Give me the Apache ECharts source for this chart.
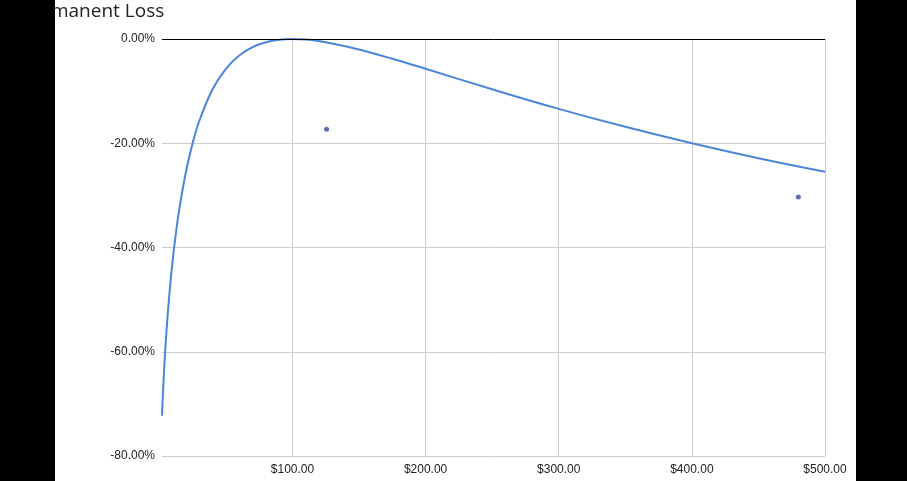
<!DOCTYPE html>
<html><head><meta charset="utf-8">
<script src="https://cdn.jsdelivr.net/npm/echarts@6/dist/echarts.min.js"></script>
<style>html,body{margin:0;padding:0;background:#fff}#c{width:907px;height:481px}</style>
</head><body><div id="c"></div>
<script>
const titleText = 'Impermanent Loss';
const prices = [2,3,4,5,6,8,10,12,15,20,25,30,40,50,60,70,80,90,100,110,125,150,175,200,250,300,350,400,450,500];
const lossPct = [-72.27,-66.37,-61.54,-57.41,-53.79,-47.62,-42.50,-38.14,-32.64,-25.46,-20.00,-15.73,-9.65,-5.72,-3.18,-1.57,-0.62,-0.14,0,-0.11,-0.62,-2.02,-3.79,-5.72,-9.65,-13.40,-16.85,-20.00,-22.86,-25.46];
const pointPrices = [125.6, 480];
const pointLoss = [-17.3, -30.3];
const xTicks = [100,200,300,400,500];

const chart = echarts.init(document.getElementById('c'), null, {renderer:'canvas'});
const font = '"Liberation Sans", Arial, sans-serif';
chart.setOption({
  animation:false,
  backgroundColor:'#fff',
  title:{text:titleText,left:-7,top:-3,textStyle:{fontFamily:'"Open Sans", sans-serif',fontSize:19,fontWeight:'normal',color:'#222'}},
  grid:{left:162,right:82,top:39,bottom:25,containLabel:false},
  xAxis:{type:'value',min:2,max:500,
    axisLine:{show:false},
    axisTick:{show:false,customValues:xTicks},
    axisLabel:{customValues:xTicks,fontFamily:font,fontSize:12,color:'#222',margin:8,formatter:v=>'$'+v.toFixed(2)},
    splitLine:{show:true,lineStyle:{color:'#cccccc',width:1}}},
  yAxis:{type:'value',min:-80,max:0,interval:20,
    axisLine:{show:false},axisTick:{show:false},
    axisLabel:{fontFamily:font,fontSize:12,color:'#222',margin:7,formatter:v=>v.toFixed(2)+'%'},
    splitLine:{show:true,lineStyle:{color:'#cccccc',width:1}}},
  series:[
    {type:'line',data:prices.map((p,i)=>[p,lossPct[i]]),smooth:0.4,showSymbol:false,symbol:'none',
     lineStyle:{color:'#4a86d8',width:2},z:3,
     markLine:{silent:true,symbol:'none',label:{show:false},lineStyle:{color:'#000',width:1,type:'solid'},data:[{yAxis:0}]}},
    {type:'scatter',data:pointPrices.map((p,i)=>[p,pointLoss[i]]),symbolSize:5,itemStyle:{color:'#3a479f'},z:4}
  ],
  graphic:[
    {type:'rect',left:0,top:0,shape:{width:55,height:481},style:{fill:'#000'},z:100},
    {type:'rect',left:856,top:0,shape:{width:51,height:481},style:{fill:'#000'},z:100}
  ]
});
</script></body></html>
